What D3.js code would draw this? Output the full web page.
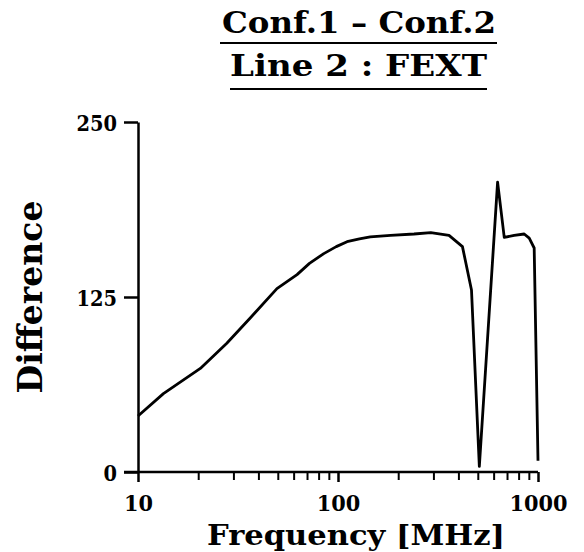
<!DOCTYPE html>
<html lang="en">
  <head>
    <meta charset="UTF-8" />
    <title>Conf.1 - Conf.2, Line 2 : FEXT</title>
    <script src="https://cdn.jsdelivr.net/npm/d3@7"></script>
    <style>
      body { margin: 0; background: #fff; }
      text { font-family: "DejaVu Serif", serif; font-weight: bold; fill: #000; }
    </style>
  </head>
  <body>
    <svg id="chart" width="584" height="552"></svg>
    <script>
      // values
      var freq = [10, 13.4, 20.5, 27.8, 36.4, 49.5, 62.4, 72, 84.9, 98, 111, 128, 145, 183, 240, 291, 359, 419, 465, 509, 628, 678, 760, 853, 904, 957, 1000];
      var diff = [40, 56, 74, 92, 110, 131, 141, 149, 156, 161, 164.5, 166.5, 168, 169, 170, 171, 169, 161, 130, 4, 207, 167.6, 169, 170, 167, 160, 8];
      var xMajor = [10, 100, 1000];
      var xMinor = [20, 30, 40, 50, 60, 70, 80, 90, 200, 300, 400, 500, 600, 700, 800, 900];
      var yTicks = [0, 125, 250];

      var svg = d3.select("#chart");

      var x = d3.scaleLog().domain([10, 1000]).range([138, 538]);
      var y = d3.scaleLinear().domain([0, 250]).range([472, 122]);

      // titles, underlined
      var titles = [
        { text: "Conf.1 \u2013 Conf.2", x: 359, y: 33, w: 274, line: 43, x0: 220, x1: 497 },
        { text: "Line 2 : FEXT", x: 358.5, y: 76, w: 257, line: 89, x0: 230, x1: 487 }
      ];
      titles.forEach(function(t) {
        svg.append("text")
          .attr("x", t.x).attr("y", t.y)
          .attr("text-anchor", "middle")
          .attr("font-size", 29)
          .attr("textLength", t.w)
          .attr("lengthAdjust", "spacingAndGlyphs")
          .text(t.text);
        svg.append("line")
          .attr("x1", t.x0).attr("x2", t.x1)
          .attr("y1", t.line).attr("y2", t.line)
          .attr("stroke", "#000").attr("stroke-width", 2);
      });

      // x axis: minor ticks, then major ticks with labels
      svg.append("g")
        .attr("transform", "translate(0,472)")
        .call(d3.axisBottom(x).tickValues(xMinor).tickFormat("").tickSize(8).tickSizeOuter(0))
        .call(function(g) {
          g.select(".domain").attr("stroke-width", 2.5).attr("d", "M124,0H538");
          g.selectAll(".tick line").attr("stroke-width", 2);
        });

      var xAx = svg.append("g")
        .attr("transform", "translate(0,472)")
        .call(d3.axisBottom(x).tickValues(xMajor).tickFormat(d3.format("d")).tickSize(10).tickSizeOuter(0));
      xAx.select(".domain").remove();
      xAx.selectAll(".tick line").attr("stroke-width", 2.5);
      xAx.selectAll(".tick text")
        .attr("y", 0).attr("dy", null)
        .attr("transform", "translate(0,39)")
        .attr("font-size", 23)
        .attr("font-family", null)
        .attr("textLength", function(d) { return String(d).length * 14.5; })
        .attr("lengthAdjust", "spacingAndGlyphs");

      // y axis
      var yAx = svg.append("g")
        .attr("transform", "translate(138,0)")
        .call(d3.axisLeft(y).tickValues(yTicks).tickSize(14).tickSizeOuter(0));
      yAx.select(".domain").attr("stroke-width", 2.5);
      yAx.selectAll(".tick line").attr("stroke-width", 2.5);
      yAx.selectAll(".tick text")
        .attr("x", -21).attr("dy", "0.36em")
        .attr("font-size", 23)
        .attr("font-family", null)
        .attr("textLength", function(d) { return String(d).length * 13.5; })
        .attr("lengthAdjust", "spacingAndGlyphs");
      svg.selectAll(".tick text").style("font-weight", "bold");

      // axis titles
      svg.append("text")
        .attr("transform", "translate(42,297) rotate(-90)")
        .attr("text-anchor", "middle")
        .attr("font-size", 34)
        .attr("textLength", 193)
        .attr("lengthAdjust", "spacingAndGlyphs")
        .text("Difference");

      svg.append("text")
        .attr("x", 356).attr("y", 545)
        .attr("text-anchor", "middle")
        .attr("font-size", 28)
        .attr("textLength", 298)
        .attr("lengthAdjust", "spacingAndGlyphs")
        .text("Frequency [MHz]");

      // the curve
      var line = d3.line()
        .x(function(d, i) { return x(freq[i]); })
        .y(function(d) { return y(d); });

      svg.append("path")
        .datum(diff)
        .attr("fill", "none")
        .attr("stroke", "#000")
        .attr("stroke-width", 2.8)
        .attr("stroke-linejoin", "round")
        .attr("d", line);
    </script>
  </body>
</html>
